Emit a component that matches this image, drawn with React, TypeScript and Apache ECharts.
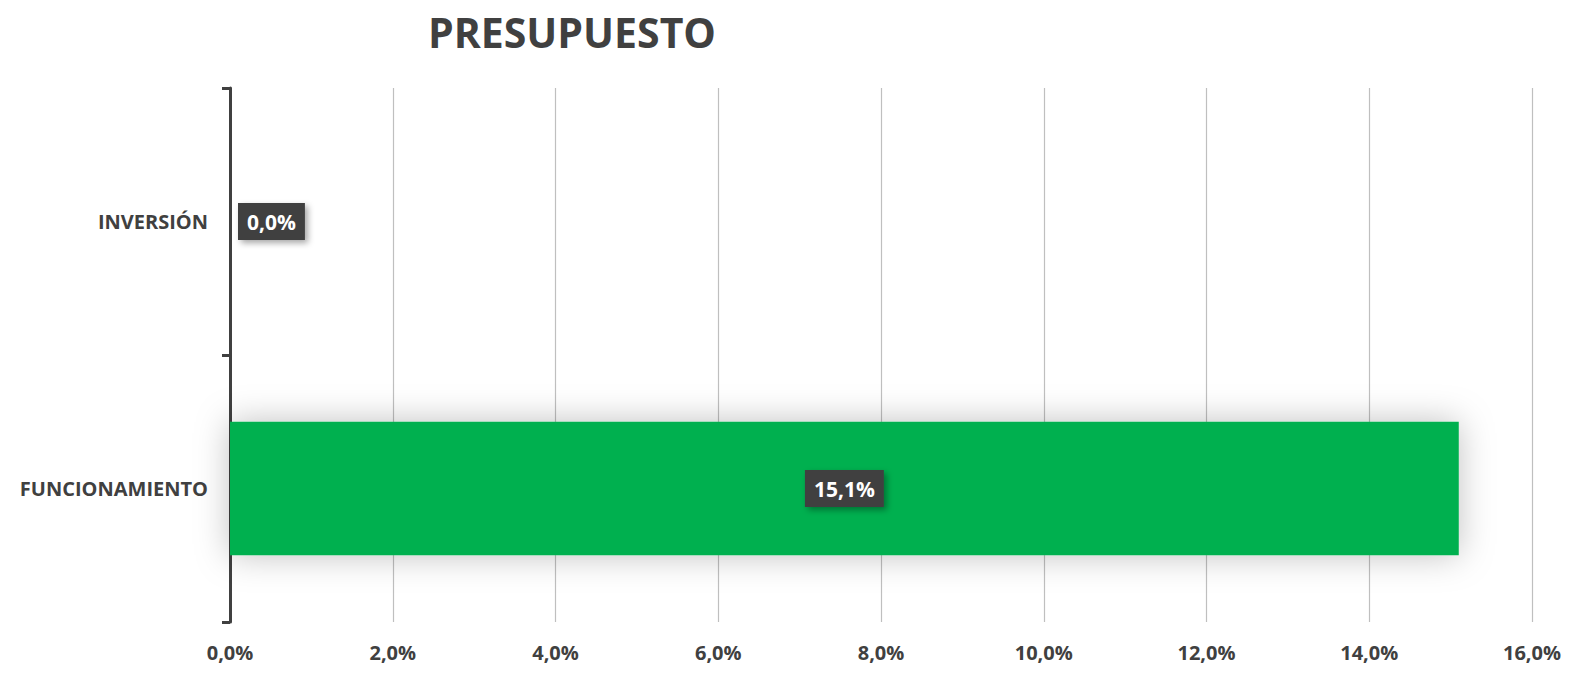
import React, { useEffect, useRef } from "react";
import * as echarts from "echarts";

const titleText = "PRESUPUESTO";
const categories = ["FUNCIONAMIENTO", "INVERSIÓN"];
const values = [15.1, 0.0];
const labelPositions = ["inside", "right"];
const xMin = 0;
const xMax = 16;
const xInterval = 2;

const FONT = "'Open Sans', 'Noto Sans', sans-serif";
const DARK = "#404040";

const fmt = (v: number) => v.toFixed(1).replace(".", ",") + "%";

export default function App() {
  const ref = useRef<HTMLDivElement>(null);
  useEffect(() => {
    if (!ref.current) return;
    const chart = echarts.init(ref.current, null, { renderer: "svg" });
    chart.setOption({
      animation: false,
      backgroundColor: "#ffffff",
      title: {
        text: titleText,
        left: 423,
        top: 6,
        textStyle: { fontFamily: FONT, fontWeight: "bold", fontSize: 41, color: DARK },
      },
      grid: { left: 230, right: 44, top: 88, bottom: 56 },
      xAxis: {
        type: "value",
        min: xMin,
        max: xMax,
        interval: xInterval,
        axisLine: { show: false },
        axisTick: { show: false },
        splitLine: { show: true, lineStyle: { color: "#bfbfbf", width: 1.2 } },
        axisLabel: {
          formatter: (v: number) => fmt(v),
          fontFamily: FONT,
          fontWeight: "bold",
          fontSize: 20,
          color: DARK,
          margin: 20,
        },
      },
      yAxis: {
        type: "category",
        data: categories,
        axisLine: { show: true, lineStyle: { color: DARK, width: 3 } },
        axisTick: { show: true, length: 8, lineStyle: { color: DARK, width: 3 } },
        axisLabel: {
          fontFamily: FONT,
          fontWeight: "bold",
          fontSize: 20,
          color: DARK,
          margin: 22,
        },
      },
      series: [
        {
          type: "bar",
          barWidth: "50%",
          itemStyle: {
            color: "#00b050",
            shadowBlur: 34,
            shadowColor: "rgba(0,0,0,0.25)",
          },
          data: values.map((v, i) => ({
            value: v,
            label: { position: labelPositions[i] },
          })),
          label: {
            show: true,
            formatter: (p: any) => fmt(p.value),
            fontFamily: FONT,
            fontWeight: "bold",
            fontSize: 21,
            color: "#ffffff",
            backgroundColor: DARK,
            padding: [9, 9, 7, 9],
            distance: 8,
            shadowBlur: 6,
            shadowOffsetX: 3,
            shadowOffsetY: 3,
            shadowColor: "rgba(0,0,0,0.35)",
          },
        },
      ],
    });
    return () => chart.dispose();
  }, []);
  return <div ref={ref} style={{ width: 1576, height: 678, position: "absolute", left: 0, top: 0 }} />;
}
